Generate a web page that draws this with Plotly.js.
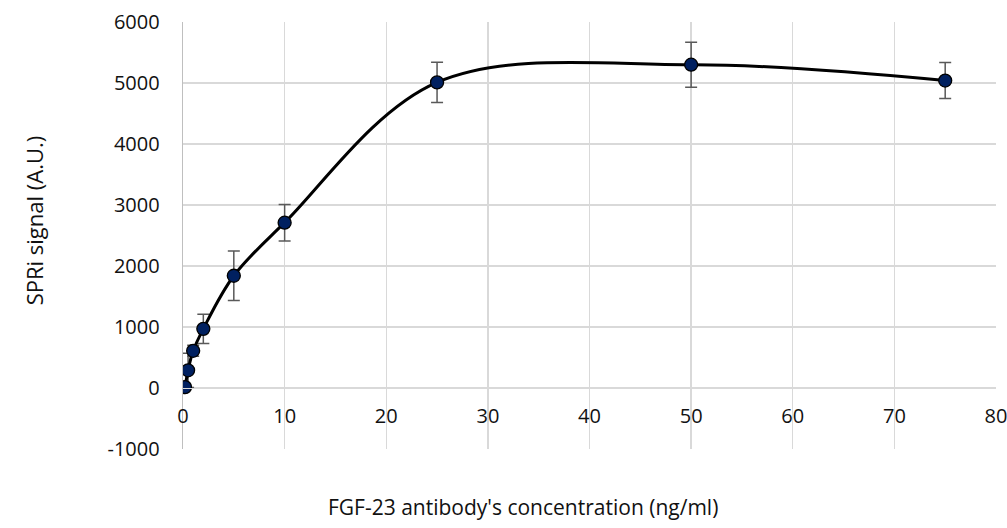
<!DOCTYPE html>
<html>
<head>
<meta charset="utf-8">
<script src="https://cdn.plot.ly/plotly-3.0.1.min.js"></script>
<style>html,body{margin:0;padding:0;background:#fff;}#chart{width:1007px;height:528px;}</style>
</head>
<body>
<div id="chart"></div>
<script>
// Data
const concentration = [0.2, 0.5, 1, 2, 5, 10, 25, 50, 75];          // ng/ml
const spriSignal    = [15, 290, 610, 970, 1840, 2710, 5010, 5300, 5040]; // A.U.
const signalError   = [40, 280, 90, 240, 405, 300, 330, 370, 295];
const xTickValues   = [0, 10, 20, 30, 40, 50, 60, 70, 80];
const yTickValues   = [-1000, 0, 1000, 2000, 3000, 4000, 5000, 6000];

const FONT = 'Open Sans, Noto Sans, sans-serif';
const TXT = '#111111';

const trace = {
  x: concentration,
  y: spriSignal,
  type: 'scatter',
  mode: 'lines+markers',
  line: {shape: 'spline', smoothing: 1, color: '#000000', width: 3},
  marker: {size: 13, color: '#002060', line: {color: '#000000', width: 1.3}},
  error_y: {type: 'data', array: signalError, visible: true, color: '#595959', thickness: 1.5, width: 6},
  showlegend: false,
  hoverinfo: 'x+y'
};

const layout = {
  width: 1007, height: 528,
  margin: {l: 183, r: 11, t: 22, b: 79, pad: 0},
  paper_bgcolor: '#ffffff', plot_bgcolor: '#ffffff',
  font: {family: FONT, size: 21, color: TXT},
  xaxis: {
    range: [0, 80], tickvals: xTickValues, ticktext: xTickValues.map(String),
    showgrid: true, gridcolor: '#d9d9d9', gridwidth: 1.3,
    zeroline: false, showline: true, linecolor: '#d9d9d9', linewidth: 1.3,
    anchor: 'free', position: 1/7,
    ticks: 'outside', ticklen: 10, tickcolor: 'rgba(0,0,0,0)',
    ticklabeloverflow: 'allow',
    tickfont: {family: FONT, size: 20, color: TXT},
    fixedrange: true
  },
  yaxis: {
    range: [-1000, 6000], tickvals: yTickValues, ticktext: yTickValues.map(String),
    showgrid: true, gridcolor: '#d9d9d9', gridwidth: 1.3,
    zeroline: false, showline: true, linecolor: '#bfbfbf', linewidth: 1.3,
    ticks: 'outside', ticklen: 18, tickcolor: 'rgba(0,0,0,0)',
    ticklabeloverflow: 'allow',
    tickfont: {family: FONT, size: 20, color: TXT},
    fixedrange: true
  },
  annotations: [
    {text: "FGF-23 antibody's concentration (ng/ml)", xref: 'paper', yref: 'paper',
     x: 0.418, y: -0.136, xanchor: 'center', yanchor: 'middle', showarrow: false,
     font: {family: FONT, size: 21, color: TXT}},
    {text: 'SPRi signal (A.U.)', xref: 'paper', yref: 'paper',
     x: -0.183, y: 0.536, xanchor: 'center', yanchor: 'middle', showarrow: false, textangle: -90,
     font: {family: FONT, size: 22, color: TXT}}
  ]
};

Plotly.newPlot('chart', [trace], layout, {displayModeBar: false, staticPlot: true});
</script>
</body>
</html>
